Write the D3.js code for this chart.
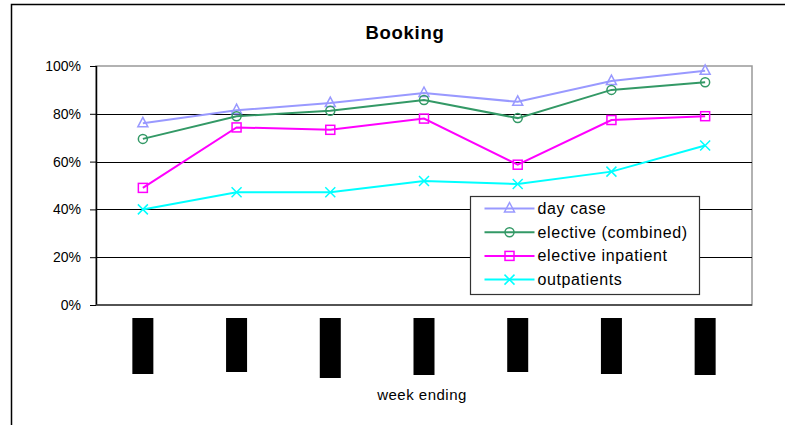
<!DOCTYPE html>
<html>
<head>
<meta charset="utf-8">
<script src="https://cdn.jsdelivr.net/npm/d3@7"></script>
<style>
  body { margin: 0; background: #fff; }
  svg { display: block; font-family: 'Liberation Sans', Arial, sans-serif; }
</style>
</head>
<body>
<svg id="chart" width="785" height="425"></svg>
<script>
// week-ending labels are blacked out in the source, so only placeholders
const weeks = ['w1', 'w2', 'w3', 'w4', 'w5', 'w6', 'w7'];
const dayCase = [0.76, 0.815, 0.845, 0.887, 0.85, 0.937, 0.98];
const electiveCombined = [0.695, 0.79, 0.813, 0.858, 0.782, 0.90, 0.932];
const electiveInpatient = [0.49, 0.743, 0.733, 0.78, 0.587, 0.774, 0.79];
const outpatients = [0.40, 0.472, 0.472, 0.519, 0.506, 0.558, 0.667];
const yTicks = [0, 0.2, 0.4, 0.6, 0.8, 1];
// heights of the redaction blocks under each category
const redactHeights = [56, 54, 60, 57, 54, 56, 57];

const series = [
    {name: 'day case', values: dayCase, color: '#9999ff', marker: 'triangle'},
    {name: 'elective (combined)', values: electiveCombined, color: '#339966', marker: 'circle'},
    {name: 'elective inpatient', values: electiveInpatient, color: '#ff00ff', marker: 'square'},
    {name: 'outpatients', values: outpatients, color: '#00ffff', marker: 'cross'}
];

const margins = {left: 96, top: 66, right: 33, bottom: 120};
const width = 785 - margins.left - margins.right;
const height = 425 - margins.top - margins.bottom;

const svg = d3.select('#chart');

// outer chart border
svg.append('rect')
    .attr('x', 11.5).attr('y', 4.5)
    .attr('width', 790).attr('height', 440)
    .attr('fill', 'none')
    .attr('stroke', '#000')
    .attr('stroke-width', 1.5);

svg.append('text')
    .attr('x', 405).attr('y', 39)
    .attr('text-anchor', 'middle')
    .attr('font-size', 18.5)
    .attr('font-weight', 'bold')
    .attr('letter-spacing', 0.7)
    .text('Booking');

const g = svg.append('g')
    .attr('transform', `translate(${margins.left},${margins.top})`);

const xScale = d3.scaleBand().domain(weeks).range([0, width]);
const yScale = d3.scaleLinear().domain([0, 1]).range([height, 0]);
const cx = d => xScale(d) + xScale.bandwidth() / 2;

// plot area border (grey on top / right)
g.append('rect')
    .attr('x', 0).attr('y', 0)
    .attr('width', width).attr('height', height)
    .attr('fill', 'none')
    .attr('stroke', '#999')
    .attr('stroke-width', 1.5);

g.append('g')      // gridlines
    .selectAll('line')
    .data(yTicks.filter(t => t > 0 && t < 1))
    .join('line')
    .attr('x1', 0).attr('x2', width)
    .attr('y1', d => Math.round(yScale(d)) + 0.5)
    .attr('y2', d => Math.round(yScale(d)) + 0.5)
    .attr('stroke', '#000');

const yAxis = g.append('g')
    .call(d3.axisLeft(yScale).tickValues(yTicks).tickFormat(d3.format('.0%')).tickSize(6).tickPadding(9));
yAxis.select('.domain').remove();
yAxis.selectAll('text').attr('font-size', 14).attr('fill', '#000').attr('font-family', null);
yAxis.selectAll('line').attr('stroke', '#000');

g.append('line')      // y axis line
    .attr('x1', 0.5).attr('x2', 0.5)
    .attr('y1', 0).attr('y2', height)
    .attr('stroke', '#000').attr('stroke-width', 1.5);
g.append('line')      // x axis line
    .attr('x1', 0).attr('x2', width)
    .attr('y1', height).attr('y2', height)
    .attr('stroke', '#333').attr('stroke-width', 1.5);

// redacted category labels
g.append('g')
    .selectAll('rect')
    .data(weeks)
    .join('rect')
    .attr('x', d => cx(d) - 10.5)
    .attr('y', height + 13)
    .attr('width', 21)
    .attr('height', (d, i) => redactHeights[i])
    .attr('fill', '#000');

svg.append('text')
    .attr('x', 422).attr('y', 400)
    .attr('text-anchor', 'middle')
    .attr('font-size', 15)
    .attr('letter-spacing', 0.5)
    .text('week ending');

function drawMarker(sel, type, color) {
    if (type === 'triangle') {
        sel.append('path').attr('d', 'M0,-6L5,3.5L-5,3.5Z')
            .attr('fill', 'none').attr('stroke', color).attr('stroke-width', 1.5);
    } else if (type === 'circle') {
        sel.append('circle').attr('r', 4.5)
            .attr('fill', 'none').attr('stroke', color).attr('stroke-width', 1.5);
    } else if (type === 'square') {
        sel.append('rect').attr('x', -4.5).attr('y', -4.5).attr('width', 9).attr('height', 9)
            .attr('fill', 'none').attr('stroke', color).attr('stroke-width', 1.5);
    } else {
        sel.append('path').attr('d', 'M-5,-5L5,5M-5,5L5,-5')
            .attr('stroke', color).attr('stroke-width', 1.5);
    }
}

const line = d3.line()
    .x((d, i) => cx(weeks[i]))
    .y(d => yScale(d));

const lines = g.append('g').attr('class', 'lines');
series.forEach(s => {
    lines.append('path')
        .attr('d', line(s.values))
        .attr('fill', 'none')
        .attr('stroke', s.color)
        .attr('stroke-width', 2);
    lines.selectAll(null)
        .data(s.values)
        .join('g')
        .attr('transform', (d, i) => `translate(${cx(weeks[i])},${yScale(d)})`)
        .each(function () { drawMarker(d3.select(this), s.marker, s.color); });
});

// legend
const legend = svg.append('g').attr('transform', 'translate(470.5,196.5)');
legend.append('rect')
    .attr('width', 229).attr('height', 98)
    .attr('fill', '#fff')
    .attr('stroke', '#333')
    .attr('stroke-width', 1.2);
series.forEach((s, i) => {
    const row = legend.append('g').attr('transform', `translate(0,${12 + i * 23.7})`);
    row.append('line')
        .attr('x1', 14).attr('x2', 64)
        .attr('stroke', s.color).attr('stroke-width', 2);
    drawMarker(row.append('g').attr('transform', 'translate(39,0)'), s.marker, s.color);
    row.append('text')
        .attr('x', 67).attr('y', 5.5)
        .attr('font-size', 16)
        .attr('letter-spacing', 0.6)
        .text(s.name);
});
</script>
</body>
</html>
